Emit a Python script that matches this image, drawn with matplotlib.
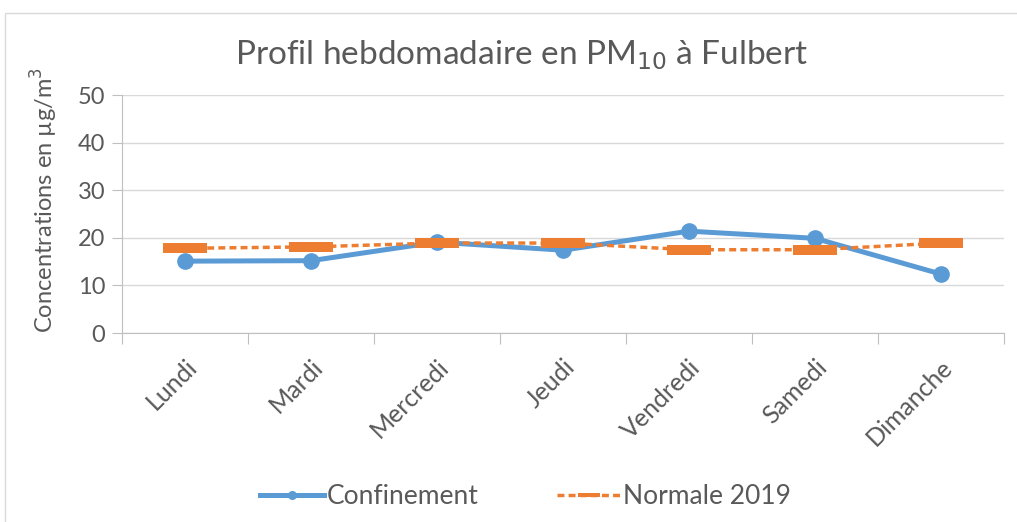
import matplotlib.pyplot as plt
from matplotlib.patches import Rectangle
from matplotlib.transforms import ScaledTranslation

days = ['Lundi', 'Mardi', 'Mercredi', 'Jeudi', 'Vendredi', 'Samedi', 'Dimanche']
confinement = [15.1, 15.2, 19.1, 17.4, 21.4, 19.9, 12.4]
normale_2019 = [17.8, 18.1, 18.9, 18.9, 17.5, 17.5, 18.9]
yticks = [0, 10, 20, 30, 40, 50]

blue = '#5B9BD5'
orange = '#ED7D31'
grey = '#595959'

plt.rcParams['font.family'] = ['Lato', 'DejaVu Sans']

fig = plt.figure(figsize=(10.17, 5.22), dpi=100)
ax = fig.add_axes([0.12, 0.362, 0.867, 0.456])

x = list(range(len(days)))
rect = [(-1, -0.22), (1, -0.22), (1, 0.22), (-1, 0.22), (-1, -0.22)]

ax.plot(x, confinement, color=blue, lw=3.6, marker='o', ms=11,
        label='Confinement', zorder=3)
ax.plot(x, normale_2019, color=orange, lw=2.5, ls=(0, (2, 1.2)),
        marker=rect, ms=32, markeredgewidth=0, label='Normale 2019', zorder=4)

ax.set_xlim(-0.5, len(days) - 0.5)
ax.set_ylim(0, 50)
ax.set_yticks(yticks)
ax.set_xticks([i - 0.5 for i in range(len(days) + 1)])
ax.set_xticklabels([])
ax.set_xticks(x, minor=True)
ax.set_xticklabels(days, minor=True, rotation=45, ha='right', va='top',
                   rotation_mode='anchor', fontsize=18, color=grey)
offset = ScaledTranslation(8 / 100, 0, fig.dpi_scale_trans)
for lbl in ax.get_xticklabels(minor=True):
    lbl.set_transform(lbl.get_transform() + offset)
ax.tick_params(axis='x', which='minor', length=0, pad=16)
ax.tick_params(axis='x', which='major', length=8, color='#bfbfbf')
ax.tick_params(axis='y', length=7, color='#bfbfbf', labelsize=17,
               labelcolor=grey, pad=5)

ax.grid(axis='y', color='#d9d9d9', lw=1)
ax.set_axisbelow(True)
for s in ['top', 'right']:
    ax.spines[s].set_visible(False)
ax.spines['left'].set_color('#bfbfbf')
ax.spines['bottom'].set_color('#bfbfbf')

ax.set_ylabel('Concentrations en µg/m$^3$', fontsize=17, color=grey)
ax.yaxis.set_label_coords(-0.07, 0.56)
fig.text(0.513, 0.895, 'Profil hebdomadaire en PM$_{10}$ à Fulbert',
         ha='center', va='center', fontsize=24, color=grey)

leg = fig.legend(loc='center', bbox_to_anchor=(0.517, 0.048), ncol=2,
                 frameon=False, fontsize=19, handlelength=2.4, columnspacing=3.0,
                 handletextpad=0.1, markerscale=0.5)
for t in leg.get_texts():
    t.set_color(grey)

fig.patches.append(Rectangle((0.005, -0.01), 1.0, 0.985, transform=fig.transFigure,
                             fill=False, edgecolor='#d9d9d9', lw=1))

fig.savefig('out.png', dpi=100)
